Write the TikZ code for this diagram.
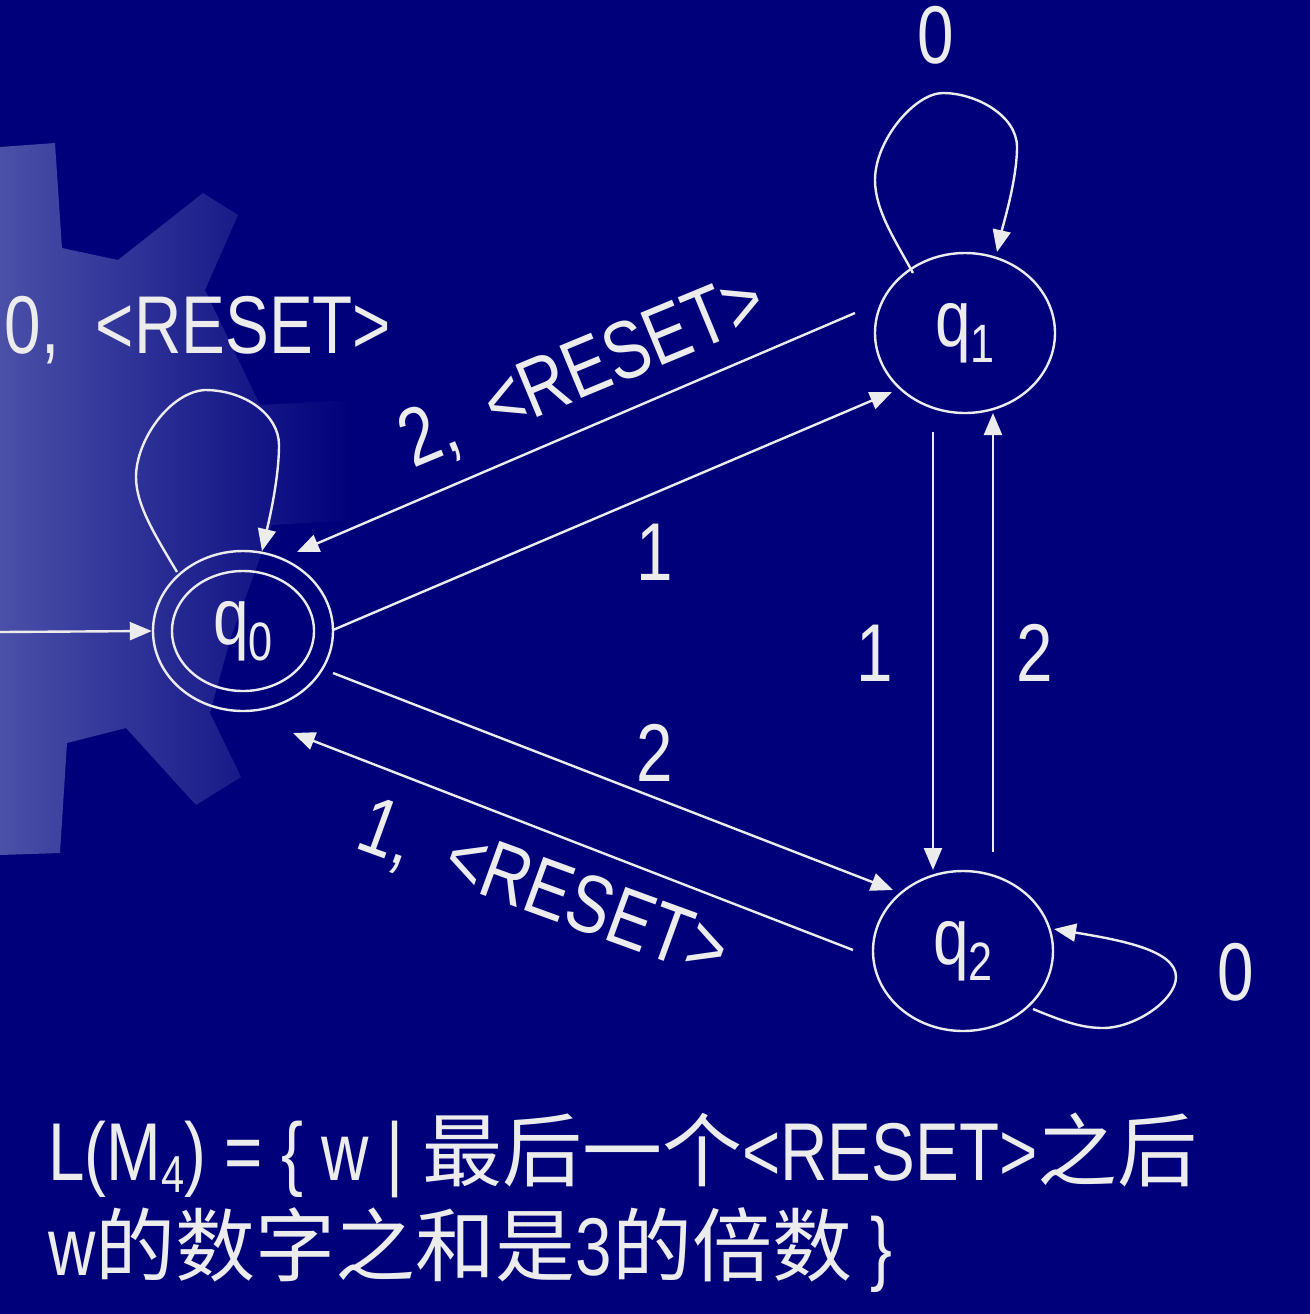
\documentclass[tikz,border=0pt]{standalone}
\usepackage{fontspec}
\setmainfont[FakeStretch=0.8]{Liberation Sans}
\newfontfamily\cjk{Noto Sans CJK SC}
\usetikzlibrary{arrows.meta,shapes.geometric,calc}
\definecolor{navy}{RGB}{0,0,122}
\definecolor{fg}{RGB}{236,236,236}
\definecolor{gearL}{RGB}{75,80,168}
\newcommand{\qsub}[1]{q\raisebox{-8pt}{\fontsize{27}{27}\selectfont #1}}
\begin{document}
\begin{tikzpicture}[x=0.5pt,y=-0.5pt,
  state/.style={draw=fg,line width=1.2pt,ellipse,minimum width=90pt,minimum height=80pt,inner sep=0pt,text=fg,font=\fontsize{40}{40}\selectfont},
  innerring/.style={draw=fg,line width=1.2pt,ellipse,minimum width=71pt,minimum height=60pt,inner sep=0pt},
  edge/.style={draw=fg,line width=1.2pt,-{Triangle[length=11pt,width=9pt]}},
  lbl/.style={text=fg,font=\fontsize{41}{41}\selectfont,inner sep=0pt},
  bottomtext/.style={text=fg,font=\fontsize{41}{41}\selectfont,inner sep=0pt,anchor=base west}]
\fill[navy] (0,0) rectangle (1310,1314);
\useasboundingbox (0,0) rectangle (1310,1314);
% decorative gear
\shade[left color=gearL, right color=navy] (0,147) -- (55,143) -- (62,248) -- (118,260) -- (203,193) -- (238,215) -- (205,290) -- (260,405) -- (350,400) -- (355,520) -- (272,525) -- (230,640) -- (210,713) -- (241,777) -- (196,805) -- (126,728) -- (67,743) -- (60,853) -- (0,855) -- cycle;
% states
\node[state] (q0) at (243,631) {\qsub{0}};
\node[innerring] (q0in) at (243,631) {};
\node[state] (q1) at (965,333) {\qsub{1}};
\node[state] (q2) at (963,951) {\qsub{2}};
\coordinate (init) at (0,632);
% edges
\draw[edge] (init) -- (q0.west);
\draw[edge] ($(q1.center)+(-110,-20)$) -- ($(q0.center)+(54,-79)$);
\draw[edge] ($(q0.center)+(90,-1)$) -- ($(q1.center)+(-73,59)$);
\draw[edge] ($(q0.center)+(90,42)$) -- ($(q2.center)+(-70,-61)$);
\draw[edge] ($(q2.center)+(-110,-1)$) -- ($(q0.center)+(50,102)$);
\draw[edge] ($(q1.center)+(-32,99)$) -- ($(q2.center)+(-30,-81)$);
\draw[edge] ($(q2.center)+(30,-99)$) -- ($(q1.center)+(28,80)$);
% self loops
\draw[edge] ($(q0.center)+(-66,-59)$) .. controls (155,535) and (136,505) .. (136,477)
  .. controls (136,440) and (170,392) .. (205,390)
  .. controls (245,390) and (279,415) .. (279,445)
  .. controls (279,480) and (268,525) .. ($(q0.center)+(19,-80)$);
\draw[edge] ($(q1.center)+(-52,-60)$) .. controls (895,240) and (875,210) .. (875,180)
  .. controls (875,140) and (915,93) .. (943,93)
  .. controls (975,93) and (1017,115) .. (1017,147)
  .. controls (1017,180) and (1003,225) .. ($(q1.center)+(32,-81)$);
\draw[edge] ($(q2.center)+(70,58)$) .. controls (1060,1020) and (1080,1028) .. (1103,1028)
  .. controls (1135,1028) and (1176,1000) .. (1176,977)
  .. controls (1176,950) and (1120,940) .. ($(q2.center)+(91,-22)$);
% labels
\node[lbl] (l11) at (936,35) {0};
\node[lbl] (l00) at (198,330) {0,\ \ <RESET>};
\node[lbl,rotate=22.5] (l10) at (583,373) {2,\ \ <RESET>};
\node[lbl,rotate=-20] (l20) at (543,892) {1,\ \ <RESET>};
\node[lbl] (l01) at (655,552) {1};
\node[lbl] (l12) at (875,653) {1};
\node[lbl] (l21) at (1035,653) {2};
\node[lbl] (l02) at (655,753) {2};
\node[lbl] (l22) at (1236,972) {0};
% language
\node[bottomtext] (line1) at (48,1180) {L(M\raisebox{-6pt}{\fontsize{26}{26}\selectfont 4}) = \{ w | {\cjk\fontsize{40}{40}\selectfont 最后一个}<RESET>{\cjk\fontsize{40}{40}\selectfont 之后}};
\node[bottomtext] (line2) at (48,1275) {w{\cjk\fontsize{40}{40}\selectfont 的数字之和是}3{\cjk\fontsize{40}{40}\selectfont 的倍数} \}};
\end{tikzpicture}
\end{document}
